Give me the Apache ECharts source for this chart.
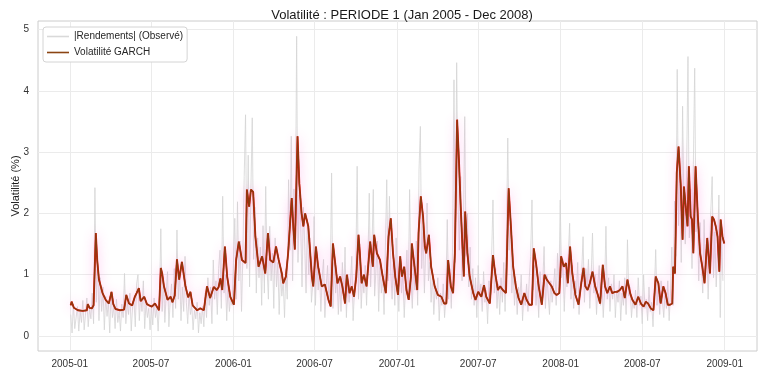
<!DOCTYPE html>
<html>
<head>
<meta charset="UTF-8"/>
<script src="https://cdn.jsdelivr.net/npm/echarts@6.0.0/dist/echarts.min.js"></script>
<style type="text/css">
	html, body { margin:0; padding:0; background:#fff; }
	#chart_vol { width:768px; height:376px; }
</style>
</head>
<body>
<div id="chart_vol"></div>

<script type="text/javascript">

var titleText = 'Volatilité : PERIODE 1 (Jan 2005 - Dec 2008)';
var nameAbs = '|Rendements| (Observé)';
var nameGarch = 'Volatilité GARCH';

// |rendements|, un point tous les 3 jours a partir du 2005-01-03
var absStart = [2005, 0, 3];
var absStepDays = 3;
var absReturns = [
	0.35,0.05,0.52,0.12,0.30,0.48,0.08,0.40,0.22,0.58,0.10,0.36,0.62,0.15,0.45,0.28,0.70,0.20,2.42,0.55,
	1.30,0.25,0.95,0.40,0.80,0.10,0.65,0.32,0.55,0.05,0.72,0.30,0.48,0.12,0.60,0.22,0.40,0.08,0.52,0.30,
	1.02,0.20,0.55,0.35,0.70,0.08,0.48,0.60,0.15,0.85,1.00,0.25,0.66,0.40,0.90,0.12,0.55,0.30,0.45,0.10,
	0.50,0.18,0.62,0.30,0.45,0.08,0.55,1.75,0.40,0.95,0.22,0.70,1.05,0.15,0.60,0.85,0.30,1.10,0.45,1.73,
	0.60,1.05,0.25,0.80,0.40,1.30,0.55,0.20,0.70,0.35,0.50,0.10,0.42,0.28,0.55,0.05,0.38,0.20,0.48,0.15,
	0.70,0.30,0.95,0.50,0.80,0.20,1.24,0.60,0.90,0.35,1.10,1.40,0.45,2.28,0.70,1.00,0.25,0.85,0.40,0.65,
	0.50,1.20,1.92,0.60,2.19,0.90,1.55,0.40,1.30,2.60,3.61,1.10,2.95,0.80,2.40,3.56,1.25,2.10,0.70,1.60,
	0.95,1.45,0.50,1.80,0.70,2.44,1.10,0.60,1.79,0.90,1.35,0.45,1.60,0.80,1.20,0.35,1.05,0.65,0.90,0.30,
	1.10,0.60,2.55,1.40,3.26,0.90,2.40,1.70,4.89,1.20,2.30,1.85,0.80,2.10,1.50,0.70,1.90,1.00,1.60,0.55,
	0.85,1.95,0.50,1.30,0.75,1.10,0.40,0.95,1.25,0.30,0.80,1.15,0.55,0.90,2.66,0.45,1.20,0.70,1.00,0.35,
	0.90,0.40,1.20,0.65,1.45,0.30,1.00,0.55,0.85,1.30,0.25,0.75,1.10,2.77,0.60,1.50,0.45,0.95,0.70,1.15,
	0.50,1.20,2.33,0.80,1.40,2.39,0.65,1.10,1.55,0.40,1.25,0.70,1.00,0.35,1.45,2.55,0.90,2.28,1.05,0.60,
	1.30,0.50,1.60,0.90,0.40,1.25,0.70,1.05,0.30,0.85,1.40,0.60,2.39,0.95,0.45,1.20,0.75,1.55,0.50,2.71,
	3.42,1.10,1.80,0.70,1.45,2.17,0.90,1.20,0.55,1.00,0.35,0.80,0.60,0.95,0.25,0.70,0.50,0.85,0.30,0.65,
	1.90,0.60,1.10,0.45,1.50,4.18,1.20,4.46,2.20,1.40,2.60,0.90,1.70,3.58,1.30,2.00,0.80,1.45,0.60,1.10,
	0.50,0.95,0.30,1.15,0.65,0.85,0.40,1.05,0.55,0.75,0.20,0.90,0.60,1.30,2.22,0.70,1.10,0.45,0.85,0.35,
	0.95,0.55,1.20,0.40,1.60,3.23,1.40,1.90,0.70,1.10,0.50,0.90,0.35,0.80,0.60,1.00,0.25,0.70,0.50,0.85,
	0.40,0.95,1.30,2.22,0.75,1.15,0.50,0.90,0.30,1.05,0.65,0.85,1.46,0.45,1.00,0.70,0.35,0.90,0.55,0.80,
	1.10,0.50,1.35,0.75,2.22,0.95,1.25,0.40,1.05,0.80,1.30,1.84,0.60,1.15,0.45,0.90,0.70,1.20,0.35,0.85,
	1.05,1.62,0.55,1.10,0.80,1.25,0.45,0.95,1.68,0.70,1.00,0.35,0.85,1.15,0.50,0.90,0.30,0.75,1.79,0.60,
	0.95,0.40,0.85,0.60,1.00,0.30,0.75,0.55,0.90,0.25,0.70,0.50,0.95,0.35,1.57,0.65,0.80,0.30,0.60,0.45,
	0.75,0.30,0.95,0.50,0.65,0.20,1.00,0.45,0.60,0.25,0.80,0.40,0.55,0.15,0.70,1.41,0.50,0.85,0.35,0.90,
	0.60,0.30,0.75,0.45,0.90,0.25,0.70,1.45,0.50,2.20,1.30,4.35,1.80,2.90,1.20,3.75,2.10,1.50,2.70,4.56,
	1.60,2.40,1.10,2.80,4.37,1.70,2.20,0.90,1.85,1.20,0.70,1.90,1.00,1.50,0.60,1.35,2.05,2.60,0.95,1.70,
	0.80,1.40,2.30,0.30,1.60,0.90
];

// volatilite GARCH (%) : [date, valeur]
var garch = [
	['2005-01-03',0.50],['2005-01-05',0.56],['2005-01-10',0.46],['2005-01-19',0.42],['2005-01-30',0.41],
	['2005-02-08',0.42],['2005-02-10',0.52],['2005-02-14',0.46],['2005-02-19',0.45],['2005-02-23',0.50],
	['2005-02-28',1.68],['2005-03-03',1.24],['2005-03-07',0.92],['2005-03-15',0.70],['2005-03-22',0.59],
	['2005-03-29',0.53],['2005-04-04',0.72],['2005-04-08',0.52],['2005-04-13',0.44],['2005-04-23',0.42],
	['2005-05-02',0.43],['2005-05-07',0.67],['2005-05-13',0.53],['2005-05-20',0.50],['2005-05-26',0.64],
	['2005-05-30',0.70],['2005-06-04',0.78],['2005-06-08',0.57],['2005-06-16',0.64],['2005-06-22',0.52],
	['2005-06-27',0.50],['2005-07-03',0.48],['2005-07-10',0.53],['2005-07-19',0.42],['2005-07-23',1.11],
	['2005-07-26',1.02],['2005-07-30',0.81],['2005-08-07',0.59],['2005-08-14',0.64],['2005-08-18',0.55],
	['2005-08-23',0.66],['2005-08-28',1.25],['2005-09-02',0.92],['2005-09-08',1.21],['2005-09-16',0.81],
	['2005-09-22',0.63],['2005-09-27',0.72],['2005-10-02',0.50],['2005-10-07',0.46],['2005-10-12',0.42],
	['2005-10-19',0.45],['2005-10-27',0.42],['2005-10-31',0.44],['2005-11-03',0.81],['2005-11-10',0.62],
	['2005-11-18',0.80],['2005-11-25',0.75],['2005-11-29',0.80],['2005-12-03',0.94],['2005-12-07',0.75],
	['2005-12-13',1.46],['2005-12-18',0.97],['2005-12-25',0.64],['2006-01-02',0.51],['2006-01-07',1.24],
	['2006-01-13',1.54],['2006-01-20',1.24],['2006-01-28',1.19],['2006-01-31',2.39],['2006-02-05',2.11],
	['2006-02-09',2.39],['2006-02-14',2.35],['2006-02-19',1.62],['2006-02-26',1.13],['2006-03-06',1.30],
	['2006-03-13',1.02],['2006-03-19',1.68],['2006-03-24',1.24],['2006-03-31',1.20],['2006-04-06',1.46],
	['2006-04-12',1.24],['2006-04-19',1.02],['2006-04-22',0.86],['2006-04-28',0.97],['2006-05-03',1.35],
	['2006-05-11',2.25],['2006-05-15',1.73],['2006-05-18',1.41],['2006-05-24',3.26],['2006-05-28',2.49],
	['2006-06-02',2.00],['2006-06-06',1.79],['2006-06-10',2.00],['2006-06-17',1.79],['2006-06-25',0.97],
	['2006-06-28',0.81],['2006-07-04',1.46],['2006-07-09',1.13],['2006-07-17',0.81],['2006-07-24',0.84],
	['2006-08-01',0.59],['2006-08-06',0.48],['2006-08-11',1.51],['2006-08-16',1.19],['2006-08-21',0.86],
	['2006-08-27',0.97],['2006-09-01',0.81],['2006-09-07',0.53],['2006-09-11',1.00],['2006-09-17',0.70],
	['2006-09-22',0.81],['2006-09-27',0.64],['2006-10-02',0.97],['2006-10-07',1.65],['2006-10-10',1.35],
	['2006-10-14',0.86],['2006-10-19',1.00],['2006-10-25',0.81],['2006-11-02',1.54],['2006-11-08',1.13],
	['2006-11-11',1.65],['2006-11-17',1.35],['2006-11-24',1.24],['2006-11-30',0.97],['2006-12-07',0.70],
	['2006-12-13',1.62],['2006-12-18',1.92],['2006-12-23',1.35],['2006-12-28',0.97],['2007-01-03',0.67],
	['2007-01-08',1.30],['2007-01-12',0.97],['2007-01-17',1.13],['2007-01-22',0.75],['2007-01-27',0.59],
	['2007-02-01',0.97],['2007-02-03',1.51],['2007-02-09',1.13],['2007-02-15',0.75],['2007-02-18',1.68],
	['2007-02-23',2.28],['2007-02-28',1.95],['2007-03-04',1.46],['2007-03-07',1.35],['2007-03-13',1.65],
	['2007-03-18',1.13],['2007-03-26',0.81],['2007-04-02',0.67],['2007-04-10',0.64],['2007-04-16',0.53],
	['2007-04-21',0.53],['2007-04-25',1.24],['2007-05-01',0.81],['2007-05-06',0.70],['2007-05-10',1.35],
	['2007-05-15',3.53],['2007-05-19',2.88],['2007-05-23',2.11],['2007-05-26',1.62],['2007-05-30',0.97],
	['2007-06-02',2.03],['2007-06-07',1.35],['2007-06-12',0.97],['2007-06-20',0.70],['2007-06-25',0.59],
	['2007-07-01',0.72],['2007-07-08',0.64],['2007-07-14',0.83],['2007-07-19',0.64],['2007-07-27',0.53],
	['2007-08-03',1.32],['2007-08-08',1.02],['2007-08-14',0.75],['2007-08-19',0.81],['2007-08-25',0.75],
	['2007-09-01',0.70],['2007-09-07',2.41],['2007-09-12',1.79],['2007-09-17',1.13],['2007-09-23',0.81],
	['2007-09-29',0.62],['2007-10-05',0.51],['2007-10-12',0.70],['2007-10-17',0.59],['2007-10-23',0.51],
	['2007-10-29',0.51],['2007-11-02',1.43],['2007-11-07',1.19],['2007-11-13',0.81],['2007-11-20',0.51],
	['2007-11-26',1.00],['2007-12-01',0.92],['2007-12-07',0.86],['2007-12-12',0.81],['2007-12-18',0.70],
	['2007-12-23',0.67],['2007-12-29',0.70],['2008-01-02',1.30],['2008-01-08',1.13],['2008-01-13',1.19],
	['2008-01-17',0.86],['2008-01-22',1.46],['2008-01-27',1.02],['2008-02-03',0.67],['2008-02-10',0.51],
	['2008-02-15',0.81],['2008-02-21',1.11],['2008-02-25',0.81],['2008-03-01',0.75],['2008-03-06',0.86],
	['2008-03-12',1.05],['2008-03-18',0.81],['2008-03-24',0.67],['2008-03-29',0.53],['2008-04-04',1.16],
	['2008-04-09',0.81],['2008-04-14',0.70],['2008-04-20',0.81],['2008-04-25',0.70],['2008-05-01',0.72],
	['2008-05-06',0.72],['2008-05-12',0.75],['2008-05-18',0.81],['2008-05-23',0.62],['2008-05-29',0.92],
	['2008-06-04',0.70],['2008-06-09',0.59],['2008-06-16',0.51],['2008-06-22',0.64],['2008-06-28',0.53],
	['2008-07-04',0.48],['2008-07-09',0.56],['2008-07-14',0.53],['2008-07-20',0.45],['2008-07-26',0.42],
	['2008-07-31',0.97],['2008-08-06',0.86],['2008-08-11',0.53],['2008-08-17',0.81],['2008-08-22',0.70],
	['2008-08-27',0.51],['2008-09-01',0.51],['2008-09-06',0.53],['2008-09-08',1.13],['2008-09-12',1.02],
	['2008-09-16',2.66],['2008-09-20',3.09],['2008-09-25',2.44],['2008-09-29',1.57],['2008-10-02',2.44],
	['2008-10-06',2.11],['2008-10-10',1.79],['2008-10-13',2.77],['2008-10-17',1.95],['2008-10-20',1.90],
	['2008-10-23',1.35],['2008-10-28',2.77],['2008-11-02',1.95],['2008-11-07',1.35],['2008-11-12',1.13],
	['2008-11-17',0.86],['2008-11-23',1.60],['2008-11-29',1.02],['2008-12-04',1.95],['2008-12-08',1.90],
	['2008-12-12',1.79],['2008-12-16',1.62],['2008-12-20',1.05],['2008-12-23',1.90],['2008-12-27',1.62],
	['2008-12-31',1.51]
];

var yTicks = [0, 1, 2, 3, 4, 5];
var xTicks = ['2005-01','2005-07','2006-01','2006-07','2007-01','2007-07','2008-01','2008-07','2009-01'];
var xMin = '2004-10-22';
var xMax = '2009-03-14';

function pad2(n){
	return n < 10 ? '0' + n : '' + n;
}
function monthTime(ym){
	var p = ym.split('-');
	return new Date(+p[0], +p[1] - 1, 1).getTime();
}
function dayTime(s){
	var p = s.split('-');
	return new Date(+p[0], +p[1] - 1, +p[2]).getTime();
}

var absData = [];
for(var i = 0; i < absReturns.length; i++){
	var t = new Date(absStart[0], absStart[1], absStart[2] + i * absStepDays).getTime();
	absData.push([t, absReturns[i]]);
}
var garchData = [];
for(var i = 0; i < garch.length; i++){
	garchData.push([dayTime(garch[i][0]), garch[i][1]]);
}
var xTickTimes = xTicks.map(monthTime);

var fontFam = '"Liberation Sans", Arial, "DejaVu Sans", sans-serif';

var myChart = echarts.init(document.getElementById('chart_vol'));
var option = {
	animation: false,
	backgroundColor: '#fff',
	textStyle: { fontFamily: fontFam },
	title: {
		text: titleText,
		left: 397,
		textAlign: 'center',
		top: 4,
		textStyle: { fontSize: 13, fontWeight: 'normal', color: '#1a1a1a', fontFamily: fontFam }
	},
	legend: {
		data: [nameAbs, nameGarch],
		orient: 'vertical',
		left: 43,
		top: 27,
		icon: 'rect',
		itemWidth: 22,
		itemHeight: 1.6,
		itemGap: 5,
		padding: [4, 4, 4, 4],
		backgroundColor: '#fff',
		borderColor: '#d4d4d4',
		borderWidth: 1,
		borderRadius: 3,
		textStyle: { fontSize: 10, color: '#262626', fontFamily: fontFam, lineHeight: 11 }
	},
	grid: {
		left: 38,
		right: 11,
		top: 21,
		bottom: 25,
		outerBoundsMode: 'none',
		show: true,
		borderColor: '#cccccc',
		borderWidth: 1,
		backgroundColor: '#fff'
	},
	xAxis: {
		// axe numerique en millisecondes, etiquettes posees sur les debuts de semestre
		type: 'value',
		min: dayTime(xMin),
		max: dayTime(xMax),
		axisLine: { show: false },
		axisTick: { show: false, customValues: xTickTimes },
		splitLine: { show: true, lineStyle: { color: '#ebebeb', width: 1 } },
		axisLabel: {
			customValues: xTickTimes,
			fontSize: 10,
			color: '#333',
			margin: 8,
			formatter: function(v){
				var d = new Date(v);
				return d.getFullYear() + '-' + pad2(d.getMonth() + 1);
			}
		}
	},
	yAxis: {
		type: 'value',
		min: -0.245,
		max: 5.14,
		name: 'Volatilité (%)',
		nameLocation: 'middle',
		nameGap: 17,
		nameMoveOverlap: false,
		nameTextStyle: { fontSize: 11, color: '#1a1a1a', fontFamily: fontFam },
		axisLine: { show: false },
		axisTick: { show: false, customValues: yTicks },
		splitLine: { show: true, lineStyle: { color: '#ebebeb', width: 1 } },
		axisLabel: { customValues: yTicks, fontSize: 10, color: '#333', margin: 9 }
	},
	series: [
		{
			name: nameAbs,
			type: 'line',
			data: absData,
			symbol: 'none',
			lineStyle: { color: '#d4d4d4', width: 0.8 },
			itemStyle: { color: '#d9d9d9' },
			z: 1
		},
		{
			// trait rouge + halo rose sous la courbe GARCH
			name: 'garch_halo',
			type: 'line',
			data: garchData,
			symbol: 'none',
			lineStyle: {
				color: '#e3170e',
				width: 1.9,
				shadowBlur: 11,
				shadowColor: 'rgba(255, 90, 210, 0.45)'
			},
			itemStyle: { color: '#e3170e' },
			z: 2
		},
		{
			name: nameGarch,
			type: 'line',
			data: garchData,
			symbol: 'none',
			lineStyle: { color: '#8b3a10', width: 1.3 },
			itemStyle: { color: '#8b4513' },
			z: 3
		}
	]
};
myChart.setOption(option);

</script>
</body>
</html>
